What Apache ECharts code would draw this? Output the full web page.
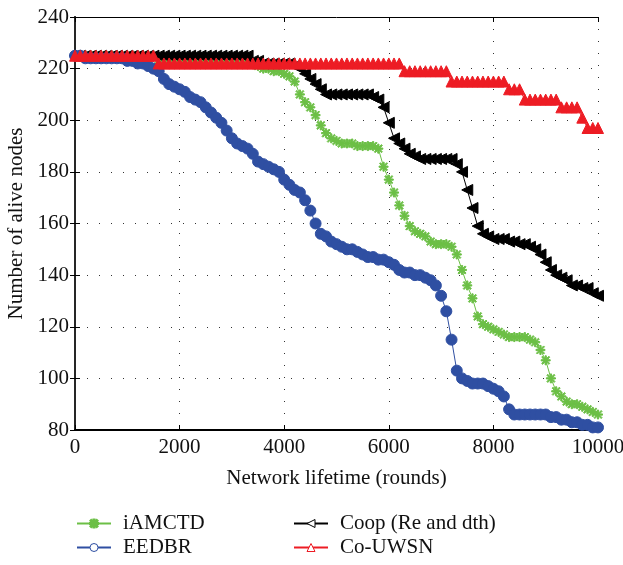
<!DOCTYPE html>
<html>
<head>
<meta charset="utf-8">
<script src="https://cdn.jsdelivr.net/npm/echarts@6/dist/echarts.min.js"></script>
<style>
    html, body { margin: 0; padding: 0; background: #fff; }
    #chart { width: 623px; height: 565px; }
</style>
</head>
<body>
<div id="chart"></div>
<script>
    // sampled every 100 rounds, 0 .. 10000
    const roundStep = 100;
    const iAMCTD = [
        225, 225, 225, 225, 225, 225, 225, 225, 225, 225,
        225, 225, 225, 225, 225, 225, 222, 222, 222, 222,
        222, 222, 222, 222, 222, 222, 222, 222, 222, 222,
        222, 222, 222, 222, 222, 221, 220, 220, 219, 219,
        218, 217, 215, 210, 207, 205, 202, 198, 195, 193,
        192, 191, 191, 191, 190, 190, 190, 190, 189, 182,
        177, 172, 167, 163, 159, 157, 156, 155, 153, 152,
        152, 152, 151, 148, 142, 136, 131, 124, 121, 120,
        119, 118, 117, 116, 116, 116, 116, 115, 114, 111,
        107, 100, 95, 93, 91, 90, 90, 89, 88, 87,
        86
    ];
    const coop = [
        225, 225, 225, 225, 225, 225, 225, 225, 225, 225,
        225, 225, 225, 225, 225, 225, 225, 225, 225, 225,
        225, 225, 225, 225, 225, 225, 225, 225, 225, 225,
        225, 225, 225, 225, 223, 223, 222, 222, 222, 222,
        222, 222, 221, 220, 218, 216, 214, 212, 210, 210,
        210, 210, 210, 210, 210, 210, 210, 209, 208, 205,
        199, 193, 191, 189, 187, 186, 185, 185, 185, 185,
        185, 185, 185, 183, 180, 173, 166, 159, 156, 155,
        154, 154, 154, 153, 153, 152, 152, 151, 150, 148,
        145, 142, 140, 139, 138, 136, 136, 135, 135, 133,
        132
    ];
    const eedbr = [
        225, 225, 224, 224, 224, 224, 224, 224, 224, 224,
        223, 223, 222, 222, 221, 220, 219, 216, 214, 213,
        212, 211, 209, 208, 207, 205, 203, 201, 199, 196,
        193, 191, 190, 189, 187, 184, 183, 182, 181, 180,
        177, 175, 173, 172, 169, 165, 160, 156, 155, 153,
        152, 151, 150, 150, 149, 148, 147, 147, 146, 146,
        145, 144, 142, 141, 141, 140, 140, 139, 138, 136,
        132, 126, 115, 103, 100, 99, 98, 98, 98, 97,
        96, 95, 93, 88, 86, 86, 86, 86, 86, 86,
        86, 85, 85, 84, 84, 83, 83, 82, 82, 81,
        81
    ];
    const coUWSN = [
        225, 225, 225, 225, 225, 225, 225, 225, 225, 225,
        225, 225, 225, 225, 225, 225, 222, 222, 222, 222,
        222, 222, 222, 222, 222, 222, 222, 222, 222, 222,
        222, 222, 222, 222, 222, 222, 222, 222, 222, 222,
        222, 222, 222, 222, 222, 222, 222, 222, 222, 222,
        222, 222, 222, 222, 222, 222, 222, 222, 222, 222,
        222, 222, 222, 219, 219, 219, 219, 219, 219, 219,
        219, 219, 215, 215, 215, 215, 215, 215, 215, 215,
        215, 215, 215, 212, 212, 212, 208, 208, 208, 208,
        208, 208, 208, 205, 205, 205, 205, 201, 197, 197,
        197
    ];
    const xTicks = { min: 0, max: 10000, interval: 2000 };
    const yTicks = { min: 80, max: 240, interval: 20 };

    const font = 'Liberation Serif';
    const asterisk = 'path://M4.3,0L5.7,0L5.7,10L4.3,10Z M0,4.3L10,4.3L10,5.7L0,5.7Z M1.5,0.5L9.5,8.5L8.5,9.5L0.5,1.5Z M8.5,0.5L9.5,1.5L1.5,9.5L0.5,8.5Z';

    function pairs(arr) {
        return arr.map((v, i) => [i * roundStep, v]);
    }

    function makeSeries(name, arr, color, symbol, size, rotate) {
        return {
            name: name,
            type: 'line',
            data: pairs(arr),
            symbol: symbol,
            symbolSize: size,
            symbolRotate: rotate || 0,
            showAllSymbol: true,
            lineStyle: { color: color, width: 1 },
            itemStyle: { color: color, borderColor: color, borderWidth: 1 },
            emphasis: { disabled: true },
        };
    }

    let chart = echarts.init(document.getElementById('chart'));

    let legendText = { fontFamily: font, fontSize: 21, lineHeight: 21, color: '#111', padding: [0, 0, 0, 7] };
    let option = {
        animation: false,
        color: ['#6cbf46', '#000000', '#2f4fa2', '#ed1c24'],
        grid: { left: 75, right: 25, top: 17, bottom: 135, outerBoundsMode: 'none' },
        legend: [
            {
                orient: 'vertical', left: 76, top: 513, padding: 0,
                itemWidth: 34, itemHeight: 10, itemGap: 3,
                textStyle: legendText,
                data: [
                    { name: 'iAMCTD' },
                    { name: 'EEDBR', itemStyle: { color: '#fff', borderColor: '#2f4fa2', borderWidth: 1 } },
                ],
            },
            {
                orient: 'vertical', left: 293, top: 513, padding: 0,
                itemWidth: 34, itemHeight: 10, itemGap: 3,
                textStyle: legendText,
                data: [
                    { name: 'Coop (Re and dth)', itemStyle: { color: '#fff', borderColor: '#000', borderWidth: 1 } },
                    { name: 'Co-UWSN', itemStyle: { color: '#fff', borderColor: '#ed1c24', borderWidth: 1 } },
                ],
            },
        ],
        xAxis: [
            {
                type: 'value', position: 'bottom',
                min: xTicks.min, max: xTicks.max, interval: xTicks.interval,
                name: 'Network lifetime (rounds)', nameLocation: 'middle', nameGap: 38,
                nameTextStyle: { fontFamily: font, fontSize: 21, color: '#111' },
                axisLine: { lineStyle: { color: '#000', width: 2 } },
                axisTick: { inside: true, length: 5, lineStyle: { color: '#000' } },
                axisLabel: { fontFamily: font, fontSize: 21, color: '#111', margin: 7, formatter: v => String(v) },
                splitLine: { show: true, lineStyle: { color: '#333', type: [1, 11], width: 1 } },
            },
            {
                type: 'value', position: 'top',
                min: xTicks.min, max: xTicks.max, interval: xTicks.interval,
                axisLine: { lineStyle: { color: '#000', width: 1 } },
                axisTick: { inside: true, length: 5, lineStyle: { color: '#000' } },
                axisLabel: { show: false },
                splitLine: { show: false },
            },
        ],
        yAxis: [
            {
                type: 'value', position: 'left',
                min: yTicks.min, max: yTicks.max, interval: yTicks.interval,
                name: 'Number of alive nodes', nameLocation: 'middle', nameGap: 46,
                nameTextStyle: { fontFamily: font, fontSize: 21, color: '#111' },
                axisLine: { show: true, lineStyle: { color: '#000', width: 2 } },
                axisTick: { show: true, inside: true, length: 5, lineStyle: { color: '#000' } },
                axisLabel: { fontFamily: font, fontSize: 21, color: '#111', margin: 6 },
                splitLine: { show: true, lineStyle: { color: '#333', type: [1, 11], width: 1 } },
            },
            {
                type: 'value', position: 'right',
                min: yTicks.min, max: yTicks.max, interval: yTicks.interval,
                axisLine: { show: true, lineStyle: { color: '#333', width: 1.5 } },
                axisTick: { show: true, inside: true, length: 5, lineStyle: { color: '#000' } },
                axisLabel: { show: false },
                splitLine: { show: false },
            },
        ],
        series: [
            makeSeries('iAMCTD', iAMCTD, '#6cbf46', asterisk, 9),
            makeSeries('Coop (Re and dth)', coop, '#000000', 'triangle', 11, 90),
            makeSeries('EEDBR', eedbr, '#2f4fa2', 'circle', 11),
            makeSeries('Co-UWSN', coUWSN, '#ed1c24', 'triangle', 11),
        ],
    };
    chart.setOption(option);
</script>
</body>
</html>
